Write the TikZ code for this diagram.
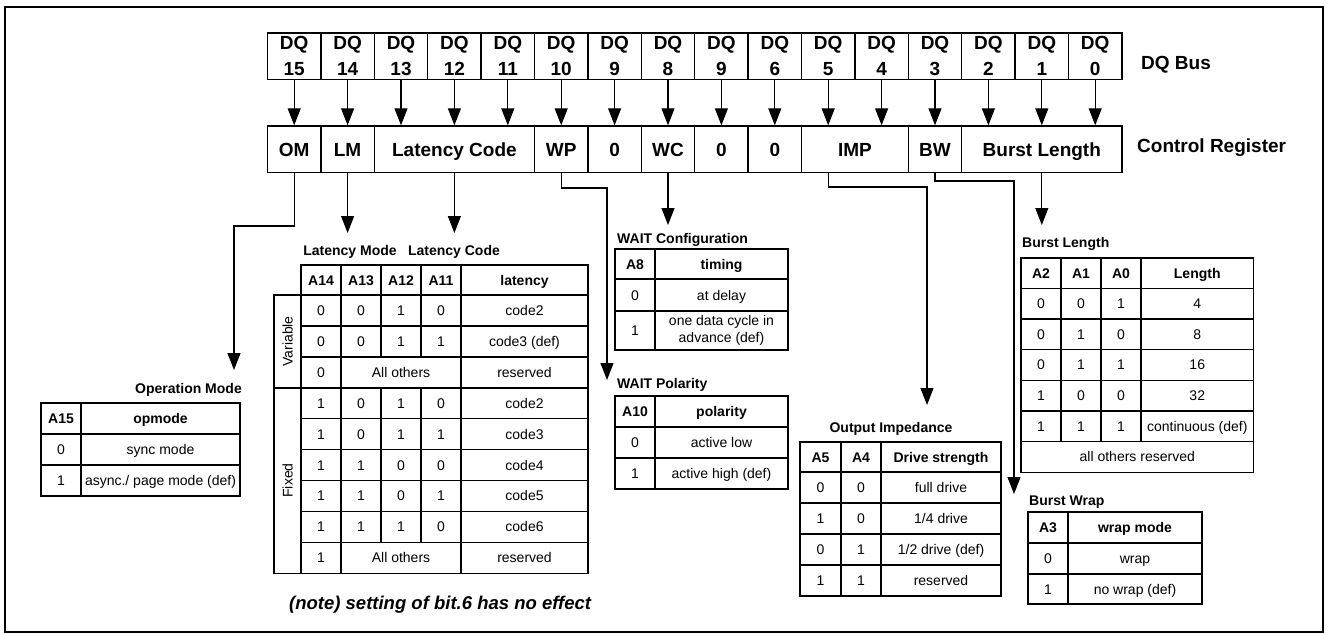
\documentclass[tikz,border=0pt]{standalone}
\usepackage{fontspec}
\setmainfont{Liberation Sans}
\usetikzlibrary{arrows.meta}

\tikzset{
  buscell/.style={draw, line width=1.4pt, minimum width=53.4pt, minimum height=46.5pt,
    inner sep=0pt, align=center, font=\bfseries\fontsize{19}{26}\selectfont},
  regcell/.style={draw, line width=1.4pt, minimum height=46.5pt, inner sep=0pt,
    text height=13.6pt, text depth=0pt, font=\bfseries\fontsize{19}{23}\selectfont},
  feed/.style={line width=1.1pt, -{Triangle[length=17pt,width=13pt]}},
  ttl/.style={inner sep=0pt, font=\bfseries\fontsize{14}{16}\selectfont},
  cellbox/.style={draw, line width=1.5pt, inner sep=0pt},
  celltext/.style={inner sep=0pt, text height=10pt, text depth=0pt, font=\fontsize{14}{16}\selectfont},
  hd/.style={font=\bfseries\fontsize{14}{16}\selectfont}
}

\newcommand\tcell[7][]{%
  \node[cellbox, minimum width={(#4-#2)*1pt}, minimum height={(#5-#3)*1pt}] (#6) at ({(#2+#4)/2},{(#3+#5)/2}) {};
  \node[celltext, #1] (#6-t) at (#6.center) {#7};}

\begin{document}
\begin{tikzpicture}[x=1pt, y=-1pt]
  \useasboundingbox (0,0) rectangle (1329,633);
  \draw[line width=1.2pt] (5,7) rectangle (1323,632);

  \foreach \lab [count=\i from 0] in {15,14,13,12,11,10,9,8,9,6,5,4,3,2,1,0}{
    \pgfmathtruncatemacro\bitno{15-\i}
    \node[buscell] (dq\bitno) at ({267.5+(\i+0.5)*53.4},56.25) {DQ\\\lab};
  }
  \foreach \nm/\st/\n/\txt in {om/0/1/OM, lm/1/1/LM, lat/2/3/Latency Code, wp/5/1/WP, r9/6/1/0,
      wc/7/1/WC, r7/8/1/0, r6/9/1/0, imp/10/2/IMP, bw/12/1/BW, bl/13/3/Burst Length}{
    \node[regcell, minimum width=\n*53.4pt] (\nm) at ({267.5+(\st+\n/2)*53.4},149.25) {\txt};
  }
  \foreach \bitno in {0,...,15}
    \draw[feed] (dq\bitno.south) -- (dq\bitno.south |- om.north);

  \node[anchor=base west, inner sep=0pt, font=\bfseries\fontsize{19}{23}\selectfont] (busname) at (1141,69) {DQ Bus};
  \node[anchor=base west, inner sep=0pt, font=\bfseries\fontsize{19}{23}\selectfont] (regname) at (1137,152) {Control Register};

  \coordinate (om-bend) at (234,226);
  \coordinate (om-in) at (234,370);
  \coordinate (lm-in) at (lm.south |- 0,233);
  \coordinate (lc-in) at (lat.south |- 0,233);
  \coordinate (wpol-bend) at (607,188);
  \coordinate (wpol-in) at (607,380);
  \coordinate (wcfg-in) at (wc.south |- 0,225);
  \coordinate (imp-bend) at (927,187);
  \coordinate (imp-in) at (927,405);
  \coordinate (bw-bend) at (1014,181);
  \coordinate (bw-in) at (1014,494);
  \coordinate (bl-in) at (bl.south |- 0,225);

  \draw[feed] (om.south) |- (om-bend) -- (om-in);
  \draw[feed] (lm.south) -- (lm-in);
  \draw[feed] (lat.south) -- (lc-in);
  \draw[feed] (wp.south) |- (wpol-bend) -- (wpol-in);
  \draw[feed] (wc.south) -- (wcfg-in);
  \draw[feed] (dq5.south |- imp.south) |- (imp-bend) -- (imp-in);
  \draw[feed] (bw.south) |- (bw-bend) -- (bw-in);
  \draw[feed] (bl.south) -- (bl-in);

  \node[ttl, anchor=base east] (omt) at (242,393) {Operation Mode};
  \tcell[hd]{41}{403}{81}{434}{omt-h1}{A15}
  \tcell[hd]{81}{403}{240}{434}{omt-h2}{opmode}
  \tcell{41}{434}{81}{465}{omt-11}{0}
  \tcell{81}{434}{240}{465}{omt-12}{sync mode}
  \tcell{41}{465}{81}{496}{omt-21}{1}
  \tcell{81}{465}{240}{496}{omt-22}{async./ page mode (def)}

  \node[ttl, anchor=base] (lmt) at (350,255) {Latency Mode};
  \node[ttl, anchor=base] (lct) at (454,255) {Latency Code};
  \tcell[hd]{301}{265}{341}{295}{lt-h1}{A14}
  \tcell[hd]{341}{265}{381}{295}{lt-h2}{A13}
  \tcell[hd]{381}{265}{421}{295}{lt-h3}{A12}
  \tcell[hd]{421}{265}{461}{295}{lt-h4}{A11}
  \tcell[hd]{461}{265}{588}{295}{lt-h5}{latency}
  \foreach \k/\va/\vb/\vc/\vd/\vl in {0/0/0/1/0/code2, 1/0/0/1/1/code3 (def), 3/1/0/1/0/code2,
      4/1/0/1/1/code3, 5/1/1/0/0/code4, 6/1/1/0/1/code5, 7/1/1/1/0/code6}{
    \pgfmathsetmacro\ya{295+\k*30.92}
    \pgfmathsetmacro\yb{\ya+30.92}
    \tcell{301}{\ya}{341}{\yb}{lt-\k-a}{\va}
    \tcell{341}{\ya}{381}{\yb}{lt-\k-b}{\vb}
    \tcell{381}{\ya}{421}{\yb}{lt-\k-c}{\vc}
    \tcell{421}{\ya}{461}{\yb}{lt-\k-d}{\vd}
    \tcell{461}{\ya}{588}{\yb}{lt-\k-e}{\vl}
  }
  \tcell{301}{356.84}{341}{387.76}{lt-2-a}{0}
  \tcell{341}{356.84}{461}{387.76}{lt-2-b}{All others}
  \tcell{461}{356.84}{588}{387.76}{lt-2-e}{reserved}
  \tcell{301}{542.36}{341}{573.28}{lt-8-a}{1}
  \tcell{341}{542.36}{461}{573.28}{lt-8-b}{All others}
  \tcell{461}{542.36}{588}{573.28}{lt-8-e}{reserved}
  \tcell[rotate=90, text height=, text depth=]{274}{295}{301}{387.76}{lt-var}{Variable}
  \tcell[rotate=90, text height=, text depth=]{274}{387.76}{301}{573.28}{lt-fix}{Fixed}
  \node[anchor=base west, inner sep=0pt, font=\bfseries\itshape\fontsize{18.5}{22}\selectfont] (note) at (289,609) {(note) setting of bit.6 has no effect};

  \node[ttl, anchor=base west] (wct) at (617,243) {WAIT Configuration};
  \tcell[hd]{615}{249}{655}{279}{wc-h1}{A8}
  \tcell[hd]{655}{249}{788}{279}{wc-h2}{timing}
  \tcell{615}{279}{655}{311}{wc-11}{0}
  \tcell{655}{279}{788}{311}{wc-12}{at delay}
  \tcell{615}{311}{655}{350}{wc-21}{1}
  \tcell[align=center, text height=, text depth=, font=\fontsize{14}{17.5}\selectfont]{655}{311}{788}{350}{wc-22}{one data cycle in\\advance (def)}

  \node[ttl, anchor=base west] (wpt) at (617,388) {WAIT Polarity};
  \tcell[hd]{615}{396}{655}{427}{wpl-h1}{A10}
  \tcell[hd]{655}{396}{788}{427}{wpl-h2}{polarity}
  \tcell{615}{427}{655}{458}{wpl-11}{0}
  \tcell{655}{427}{788}{458}{wpl-12}{active low}
  \tcell{615}{458}{655}{489}{wpl-21}{1}
  \tcell{655}{458}{788}{489}{wpl-22}{active high (def)}

  \node[ttl, anchor=base] (oit) at (891,432) {Output Impedance};
  \tcell[hd]{800}{442}{841}{472}{oi-h1}{A5}
  \tcell[hd]{841}{442}{881}{472}{oi-h2}{A4}
  \tcell[hd]{881}{442}{1001}{472}{oi-h3}{Drive strength}
  \foreach \k/\va/\vb/\vl in {0/0/0/full drive, 1/1/0/1\slash 4 drive, 2/0/1/1\slash 2 drive (def), 3/1/1/reserved}{
    \pgfmathsetmacro\ya{472+\k*31}
    \pgfmathsetmacro\yb{\ya+31}
    \tcell{800}{\ya}{841}{\yb}{oi-\k-a}{\va}
    \tcell{841}{\ya}{881}{\yb}{oi-\k-b}{\vb}
    \tcell{881}{\ya}{1001}{\yb}{oi-\k-c}{\vl}
  }

  \node[ttl, anchor=base west] (blt) at (1022,247) {Burst Length};
  \tcell[hd]{1021}{258}{1061}{288.3}{blen-h1}{A2}
  \tcell[hd]{1061}{258}{1101}{288.3}{blen-h2}{A1}
  \tcell[hd]{1101}{258}{1141}{288.3}{blen-h3}{A0}
  \tcell[hd]{1141}{258}{1253.5}{288.3}{blen-h4}{Length}
  \foreach \k/\va/\vb/\vc/\vl in {0/0/0/1/4, 1/0/1/0/8, 2/0/1/1/16, 3/1/0/0/32, 4/1/1/1/continuous (def)}{
    \pgfmathsetmacro\ya{288.3+\k*30.67}
    \pgfmathsetmacro\yb{\ya+30.67}
    \tcell{1021}{\ya}{1061}{\yb}{blen-\k-a}{\va}
    \tcell{1061}{\ya}{1101}{\yb}{blen-\k-b}{\vb}
    \tcell{1101}{\ya}{1141}{\yb}{blen-\k-c}{\vc}
    \tcell{1141}{\ya}{1253.5}{\yb}{blen-\k-d}{\vl}
  }
  \tcell{1021}{441.65}{1253.5}{472.3}{blen-5}{all others reserved}

  \node[ttl, anchor=base west] (bwt) at (1029,505) {Burst Wrap};
  \tcell[hd]{1028}{512}{1068}{543}{bwr-h1}{A3}
  \tcell[hd]{1068}{512}{1202}{543}{bwr-h2}{wrap mode}
  \tcell{1028}{543}{1068}{574}{bwr-11}{0}
  \tcell{1068}{543}{1202}{574}{bwr-12}{wrap}
  \tcell{1028}{574}{1068}{604}{bwr-21}{1}
  \tcell{1068}{574}{1202}{604}{bwr-22}{no wrap (def)}
\end{tikzpicture}
\end{document}
